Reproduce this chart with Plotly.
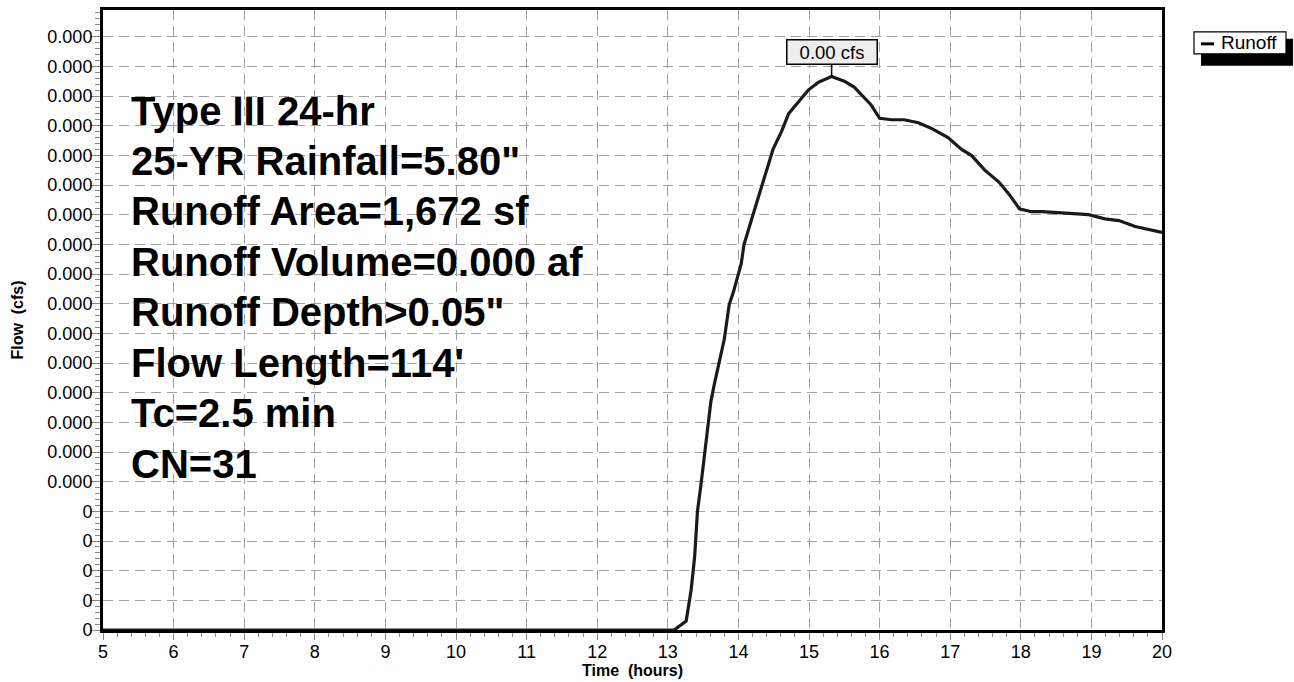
import plotly.graph_objects as go

# ---------------- data ----------------
time_hr = [5.0, 13.0, 13.09, 13.26, 13.33, 13.38, 13.42, 13.47, 13.54, 13.61,
           13.66, 13.73, 13.80, 13.87, 13.93, 14.04, 14.08, 14.22, 14.32, 14.42,
           14.49, 14.61, 14.71, 14.85, 14.99, 15.13, 15.32, 15.50, 15.64, 15.78,
           15.88, 16.00, 16.17, 16.35, 16.55, 16.74, 16.97, 17.16, 17.30, 17.49,
           17.69, 17.83, 17.98, 18.15, 18.30, 18.58, 18.96, 19.19, 19.39, 19.62,
           20.0]
runoff_cfs = [0.0, 0.0, 0.0, 0.00003, 0.000134, 0.000246, 0.00040, 0.00049, 0.00063, 0.00077,
              0.00083, 0.000906, 0.00098, 0.001097, 0.00114, 0.001235, 0.00130, 0.00141, 0.00149, 0.00157,
              0.00162, 0.00168, 0.00174, 0.00178, 0.00182, 0.001846, 0.001866, 0.00185, 0.00183, 0.001795,
              0.00177, 0.001725, 0.00172, 0.00172, 0.00171, 0.00169, 0.00166, 0.00162, 0.00160, 0.00155,
              0.00151, 0.00147, 0.00142, 0.00141, 0.00141, 0.001406, 0.00140, 0.001386, 0.00138, 0.00136,
              0.00134]

peak_time = 15.32
peak_flow = 0.001866
peak_label = "0.00 cfs"

y_tickvals = [i * 0.0001 for i in range(21)]
y_ticktext = ["0", "0", "0", "0", "0"] + ["0.000"] * 16
x_tickvals = list(range(5, 21))

info_lines = ["Type III 24-hr", "25-YR Rainfall=5.80\"", "Runoff Area=1,672 sf",
              "Runoff Volume=0.000 af", "Runoff Depth>0.05\"", "Flow Length=114'",
              "Tc=2.5 min", "CN=31"]

series_name = "Runoff"

FONT = "Liberation Sans, Arial, Helvetica, sans-serif"

fig = go.Figure()
fig.add_trace(go.Scatter(x=time_hr, y=runoff_cfs, mode="lines", name=series_name,
                         line=dict(color="#1a1a1a", width=3.2), showlegend=False,
                         hoverinfo="x+y"))

grid_common = dict(showgrid=True, gridcolor="#a0a0a0", gridwidth=1.2, griddash="10px,6px",
                   showline=True, linecolor="black", linewidth=3, mirror=True,
                   zeroline=False, ticks="outside", tickcolor="#888888",
                   tickfont=dict(family=FONT, size=18, color="black"))

fig.update_xaxes(range=[5, 20], tickmode="array", tickvals=x_tickvals, ticklen=7,
                 ticklabelstandoff=-4,
                 minor=dict(ticks="outside", ticklen=4, dtick=0.2, tick0=5,
                            tickcolor="#888888", showgrid=False),
                 title=dict(text="<b>Time\u00a0 (hours)</b>", standoff=0,
                            font=dict(family=FONT, size=16, color="black")),
                 **grid_common)
fig.update_yaxes(range=[0, 0.00209], tickmode="array", tickvals=y_tickvals,
                 ticktext=y_ticktext, ticklen=10, ticklabelstandoff=-6,
                 minor=dict(ticks="outside", ticklen=5, dtick=0.00002, tick0=0,
                            tickcolor="#888888", showgrid=False),
                 title=dict(text="<b>Flow\u00a0 (cfs)</b>", standoff=20,
                            font=dict(family=FONT, size=16, color="black")),
                 **grid_common)


def px_x(p):
    return (p - 103) / 1059.0


def px_y(p):
    return (630 - p) / 623.0


# info text block, one line each
for i, line in enumerate(info_lines):
    fig.add_annotation(xref="paper", yref="paper", x=px_x(129), y=px_y(108 + i * 50.7),
                       xanchor="left", yanchor="middle", align="left", showarrow=False,
                       text="<b>%s</b>" % line,
                       font=dict(family=FONT, size=40, color="black"))

# peak label
fig.add_annotation(x=peak_time, y=peak_flow, text=peak_label, showarrow=True,
                   arrowhead=0, arrowwidth=1.5, arrowcolor="black", ax=0, ay=-24,
                   bgcolor="#eeeeee", bordercolor="black", borderwidth=1.5,
                   width=87, height=21, borderpad=1,
                   font=dict(family=FONT, size=18.5, color="black"))

# hand-drawn legend (box with drop shadow)
fig.add_shape(type="rect", xref="paper", yref="paper", x0=px_x(1201), x1=px_x(1293),
              y0=px_y(63), y1=px_y(36), fillcolor="black", line=dict(width=0))
fig.add_shape(type="rect", xref="paper", yref="paper", x0=px_x(1194), x1=px_x(1286),
              y0=px_y(51), y1=px_y(29), fillcolor="white", line=dict(color="black", width=1.2))
fig.add_shape(type="line", xref="paper", yref="paper", x0=px_x(1201), x1=px_x(1214),
              y0=px_y(41), y1=px_y(41), line=dict(color="black", width=3))
fig.add_annotation(xref="paper", yref="paper", x=px_x(1219), y=px_y(40), xanchor="left",
                   yanchor="middle", showarrow=False, text=series_name,
                   font=dict(family=FONT, size=19, color="black"))

fig.update_layout(width=1294, height=682, margin=dict(l=103, r=132, t=7, b=52),
                  paper_bgcolor="white", plot_bgcolor="white",
                  font=dict(family=FONT, color="black"))

fig.write_html("out.html", config={"displayModeBar": False},
               post_script="document.body.style.margin='0';document.body.style.overflow='hidden';")
